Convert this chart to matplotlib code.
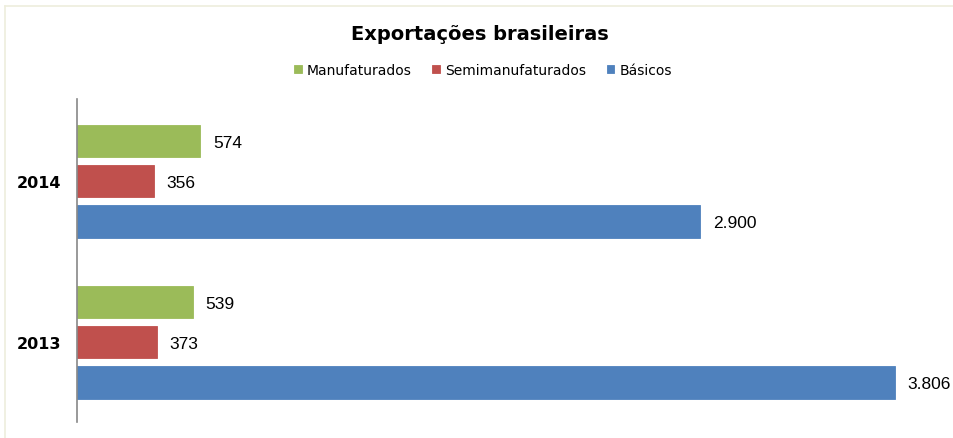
"""
Exportações brasileiras - horizontal grouped bars.
"""

import matplotlib
matplotlib.use('Agg')
import matplotlib.pyplot as plt
from matplotlib.lines import Line2D

# Data
years = ['2014', '2013']
series_names = ['Manufaturados', 'Semimanufaturados', 'Básicos']
manufaturados = [574, 539]
semimanufaturados = [356, 373]
basicos = [2900, 3806]
value_labels = {
    'Manufaturados': ['574', '539'],
    'Semimanufaturados': ['356', '373'],
    'Básicos': ['2.900', '3.806'],
}

colors = ['#9BBB59', '#C0504D', '#4F81BD']

W, H = 954, 439
fig = plt.figure(figsize=(W / 100, H / 100), dpi=100)
fig.patch.set_facecolor('white')

# axes placed in pixel terms: left spine at x=77, top 100, bottom 423
ax = fig.add_axes([77 / W, 1 - 423 / H, (940 - 77) / W, (423 - 100) / H])

series = [manufaturados, semimanufaturados, basicos]
group_step = 4
for i, (name, vals, col) in enumerate(zip(series_names, series, colors)):
    ys = [g * group_step + i for g in range(len(years))]
    ax.barh(ys, vals, height=0.8, color=col, edgecolor=col, linewidth=0.6, label=name)
    for y, v, txt in zip(ys, vals, value_labels[name]):
        ax.annotate(txt, (v, y), xytext=(9, -1), textcoords='offset points',
                    ha='left', va='center', fontsize=12.5, family='Liberation Sans',
                    color='black')

ax.set_xlim(0, 863 / (818 / 3806))
ax.set_ylim(6.98, -1.04)

ax.set_yticks([g * group_step + 1 for g in range(len(years))])
ax.set_yticklabels(years, fontsize=11.5, fontweight='bold')
ax.tick_params(axis='y', length=0, pad=11)
ax.set_xticks([])

for s in ['top', 'right', 'bottom']:
    ax.spines[s].set_visible(False)
ax.spines['left'].set_color('#888888')
ax.spines['left'].set_linewidth(1.2)

# title and legend
fig.text(480 / W, 1 - 40 / H, 'Exportações brasileiras', ha='center', va='baseline',
         fontsize=14, fontweight='bold')
fig.legend(loc='center', bbox_to_anchor=(483 / W, 1 - 71 / H), ncol=3, frameon=False,
           fontsize=10, handlelength=0.55, handleheight=0.55, handletextpad=0.35,
           columnspacing=1.5, borderpad=0)

# faint chart border (left and top visible)
border = '#EEEEDD'
fig.add_artist(Line2D([5.5 / W, 5.5 / W], [0, 1 - 6.5 / H], color=border, linewidth=1.2))
fig.add_artist(Line2D([5.5 / W, 1], [1 - 6.5 / H, 1 - 6.5 / H], color=border, linewidth=1.2))

plt.savefig('out.png', dpi=100)
plt.close()
